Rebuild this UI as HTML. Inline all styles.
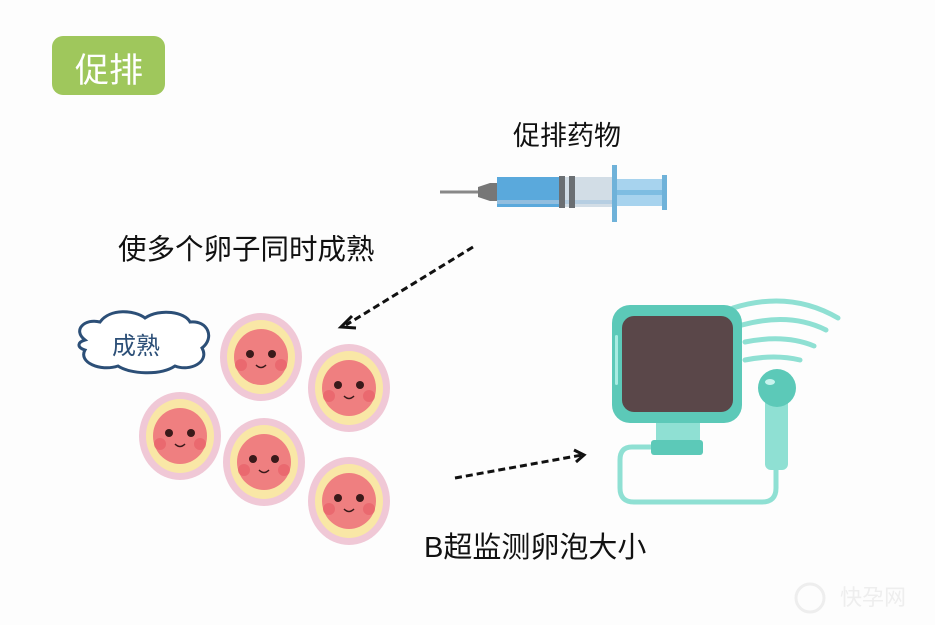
<!DOCTYPE html>
<html><head><meta charset="utf-8"><style>
html,body{margin:0;padding:0;background:#fff;}
svg{display:block;}
text{font-family:"Liberation Sans","Noto Sans CJK SC",sans-serif;}
</style></head><body>
<svg width="935" height="625" viewBox="0 0 935 625" xmlns="http://www.w3.org/2000/svg">
<rect width="935" height="625" fill="#fdfdfd"/>
<rect x="52" y="36" width="113" height="59" rx="11" fill="#9fc75c"/>
<text x="75" y="82" font-size="34" fill="#fff">促排</text>
<text x="513" y="145" font-size="27" fill="#111">促排药物</text>
<text x="118" y="259" font-size="28.5" fill="#111">使多个卵子同时成熟</text>
<text x="424" y="557" font-size="29" fill="#111">B超监测卵泡大小</text>
<!-- syringe -->
<line x1="440" y1="192" x2="478" y2="192" stroke="#888" stroke-width="3"/>
<polygon points="478,187 490,183 497,183 497,201 490,201 478,197" fill="#777"/>
<rect x="497" y="177" width="118" height="30" fill="#d2dde6"/>
<rect x="497" y="177" width="62" height="30" fill="#5aa9dc"/>
<rect x="497" y="200" width="118" height="4" fill="#a9c7e0" opacity="0.7"/>
<rect x="559" y="176" width="6" height="32" fill="#6b6f73"/>
<rect x="569" y="176" width="6" height="32" fill="#6b6f73"/>
<rect x="615" y="179" width="50" height="27" fill="#a7d3ee"/>
<rect x="615" y="190" width="50" height="5" fill="#7ebde2"/>
<rect x="612" y="165" width="5" height="57" fill="#6fb2d9"/>
<rect x="662" y="175" width="5" height="35" fill="#6fb2d9"/>
<!-- arrows -->
<line x1="473" y1="247" x2="346" y2="325" stroke="#111" stroke-width="3" stroke-dasharray="7,4"/>
<polyline points="352,316 341,327 356,328" fill="none" stroke="#111" stroke-width="3"/>
<line x1="455" y1="478" x2="582" y2="455" stroke="#111" stroke-width="3" stroke-dasharray="7,4"/>
<polyline points="574,450 584,455 576,462" fill="none" stroke="#111" stroke-width="3"/>
<!-- cloud -->
<path d="M85,340 C72,330 85,318 100,322 C110,308 135,310 145,318 C160,308 185,312 190,322 C208,320 215,338 202,348 C210,362 190,372 175,366 C160,376 130,374 118,366 C100,372 78,362 85,350 C76,347 78,342 85,340 Z" fill="#fff" stroke="#2c4f77" stroke-width="3"/>
<text x="112" y="354" font-size="24" fill="#2c4f77">成熟</text>
<!-- cells -->
<g transform="translate(261,357)"><ellipse rx="41" ry="44" fill="#f0c8d6"/><ellipse rx="34" ry="37" fill="#f9e7a6"/><ellipse rx="27" ry="28" fill="#ef7f80"/><circle cx="-11" cy="-3" r="4" fill="#3a1a1a"/><circle cx="11" cy="-3" r="4" fill="#3a1a1a"/><circle cx="-20" cy="8" r="6" fill="#e86068" opacity=".7"/><circle cx="20" cy="8" r="6" fill="#e86068" opacity=".7"/><path d="M-5,8 Q0,13 5,8" fill="none" stroke="#3a1a1a" stroke-width="1.5"/></g>
<g transform="translate(349,388)"><ellipse rx="41" ry="44" fill="#f0c8d6"/><ellipse rx="34" ry="37" fill="#f9e7a6"/><ellipse rx="27" ry="28" fill="#ef7f80"/><circle cx="-11" cy="-3" r="4" fill="#3a1a1a"/><circle cx="11" cy="-3" r="4" fill="#3a1a1a"/><circle cx="-20" cy="8" r="6" fill="#e86068" opacity=".7"/><circle cx="20" cy="8" r="6" fill="#e86068" opacity=".7"/><path d="M-5,8 Q0,13 5,8" fill="none" stroke="#3a1a1a" stroke-width="1.5"/></g>
<g transform="translate(180,436)"><ellipse rx="41" ry="44" fill="#f0c8d6"/><ellipse rx="34" ry="37" fill="#f9e7a6"/><ellipse rx="27" ry="28" fill="#ef7f80"/><circle cx="-11" cy="-3" r="4" fill="#3a1a1a"/><circle cx="11" cy="-3" r="4" fill="#3a1a1a"/><circle cx="-20" cy="8" r="6" fill="#e86068" opacity=".7"/><circle cx="20" cy="8" r="6" fill="#e86068" opacity=".7"/><path d="M-5,8 Q0,13 5,8" fill="none" stroke="#3a1a1a" stroke-width="1.5"/></g>
<g transform="translate(264,462)"><ellipse rx="41" ry="44" fill="#f0c8d6"/><ellipse rx="34" ry="37" fill="#f9e7a6"/><ellipse rx="27" ry="28" fill="#ef7f80"/><circle cx="-11" cy="-3" r="4" fill="#3a1a1a"/><circle cx="11" cy="-3" r="4" fill="#3a1a1a"/><circle cx="-20" cy="8" r="6" fill="#e86068" opacity=".7"/><circle cx="20" cy="8" r="6" fill="#e86068" opacity=".7"/><path d="M-5,8 Q0,13 5,8" fill="none" stroke="#3a1a1a" stroke-width="1.5"/></g>
<g transform="translate(349,501)"><ellipse rx="41" ry="44" fill="#f0c8d6"/><ellipse rx="34" ry="37" fill="#f9e7a6"/><ellipse rx="27" ry="28" fill="#ef7f80"/><circle cx="-11" cy="-3" r="4" fill="#3a1a1a"/><circle cx="11" cy="-3" r="4" fill="#3a1a1a"/><circle cx="-20" cy="8" r="6" fill="#e86068" opacity=".7"/><circle cx="20" cy="8" r="6" fill="#e86068" opacity=".7"/><path d="M-5,8 Q0,13 5,8" fill="none" stroke="#3a1a1a" stroke-width="1.5"/></g>
<!-- ultrasound -->
<path d="M654,447 L632,447 Q620,447 620,460 L620,488 Q620,502 634,502 L762,502 Q776,502 776,488 L776,468" fill="none" stroke="#8fe0d3" stroke-width="5"/>
<g fill="none" stroke="#8fe0d3" stroke-width="5" stroke-linecap="round">
<path d="M733,308 Q790,290 838,318"/>
<path d="M742,325 Q790,312 826,330"/>
<path d="M745,342 Q785,334 814,346"/>
<path d="M745,360 Q775,354 800,360"/>
</g>
<rect x="656" y="422" width="44" height="20" fill="#8fe0d3"/>
<rect x="651" y="440" width="52" height="15" rx="3" fill="#5cc9b8"/>
<rect x="612" y="305" width="130" height="118" rx="18" fill="#5cc9b8"/>
<rect x="622" y="316" width="111" height="96" rx="12" fill="#5a4749"/>
<rect x="615" y="335" width="3" height="50" rx="1.5" fill="#a9ece2"/>
<rect x="765" y="398" width="23" height="72" rx="6" fill="#8fe0d3"/>
<circle cx="777" cy="388" r="19" fill="#5cc9b8"/>
<ellipse cx="770" cy="382" rx="5" ry="3" fill="#c9f4ee"/>
<text x="840" y="605" font-size="22" fill="#eee">快孕网</text>
<circle cx="810" cy="598" r="14" fill="none" stroke="#eee" stroke-width="3"/>
</svg>
</body></html>
